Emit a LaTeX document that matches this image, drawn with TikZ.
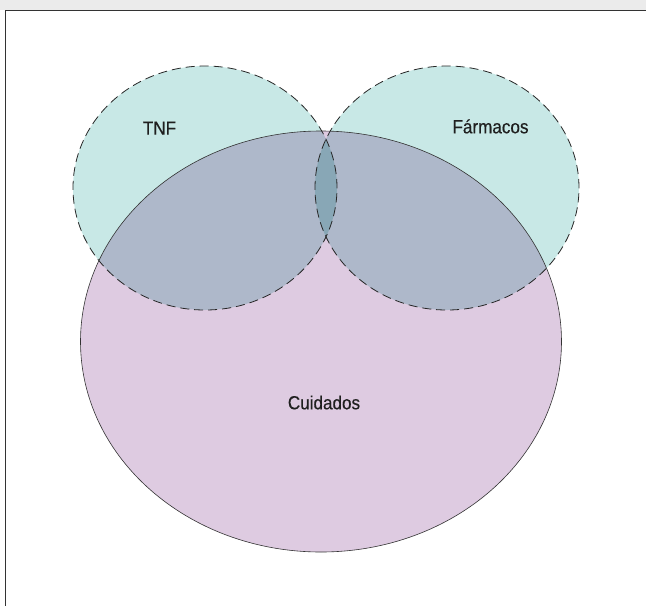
\documentclass[tikz,border=0pt]{standalone}
\usepackage{fontspec}
\setmainfont[FakeStretch=0.9,FakeBold=0.4]{Liberation Sans}
\usepackage{xcolor}
\usepackage{tikz}
\usetikzlibrary{positioning}
\definecolor{tnfcol}{HTML}{C8E8E6}
\definecolor{cuidcol}{HTML}{DECBE1}
\definecolor{bandgray}{HTML}{EBEBEB}

\begin{document}
\begin{tikzpicture}[x=1pt,y=-1pt,
  every node/.style={font=\fontsize{19}{23}\selectfont,text=black!88},
  lbl/.style={anchor=base,inner sep=0pt},
  ring/.style={draw=black!85,line width=0.8pt,dash pattern=on 9pt off 5pt},
  outer/.style={draw=black!80,line width=0.6pt}]
 \useasboundingbox (0,0) rectangle (646,606);
 \fill[bandgray] (0,0) rectangle (646,10);
 \coordinate (fr) at (646,10);
 \coordinate (fc) at (5,10);
 \coordinate (fb) at (5,606);
 \draw[black!80,line width=1pt] (fr)--(fc)--(fb);
 \begin{scope}[blend group=multiply]
  \fill[cuidcol] (321,341.5) ellipse [x radius=240.5pt,y radius=210.5pt];
  \foreach \cx in {205,447}
    \fill[tnfcol] (\cx,188) ellipse [x radius=132pt,y radius=122pt];
 \end{scope}
 \draw[outer] (321,341.5) ellipse [x radius=240.5pt,y radius=210.5pt];
 \foreach \cx in {205,447}
   \draw[ring] (\cx,188) ellipse [x radius=132pt,y radius=122pt];
 \node[lbl] (tnf) at (159.5,134.7) {TNF};
 \node[lbl] (farm) at (490.5,133.3) {Fármacos};
 \node[lbl] (cuid) at (324,409.3) {Cuidados};
\end{tikzpicture}
\end{document}
